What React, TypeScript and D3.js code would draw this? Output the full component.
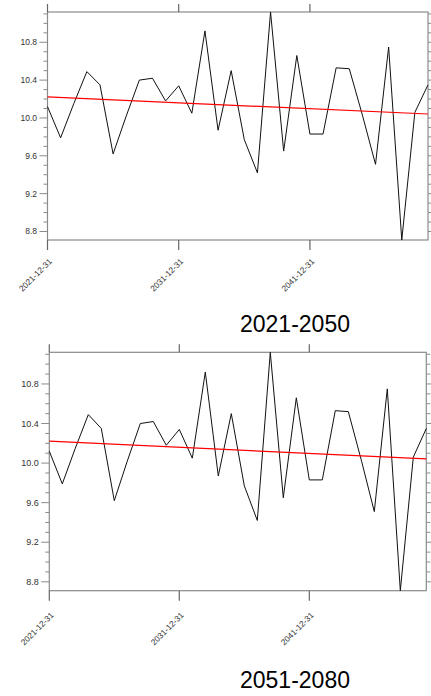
import React from "react";
import * as d3 from "d3";

// ---- data ----
const years: number[] = d3.range(2021, 2051);
const series2050: number[] = [
  10.12, 9.79, 10.15, 10.49, 10.35, 9.62, 10.02, 10.4, 10.42, 10.18,
  10.34, 10.05, 10.92, 9.87, 10.5, 9.77, 9.42, 11.12, 9.65, 10.66,
  9.83, 9.83, 10.53, 10.52, 10.03, 9.51, 10.75, 8.71, 10.06, 10.35,
];
const series2080: number[] = [
  10.12, 9.79, 10.15, 10.49, 10.35, 9.62, 10.02, 10.4, 10.42, 10.18,
  10.34, 10.05, 10.92, 9.87, 10.5, 9.77, 9.42, 11.12, 9.65, 10.66,
  9.83, 9.83, 10.53, 10.52, 10.03, 9.51, 10.75, 8.71, 10.06, 10.35,
];
const xTickLabels: string[] = ["2021-12-31", "2031-12-31", "2041-12-31"];
const yMajorTicks: number[] = [8.8, 9.2, 9.6, 10.0, 10.4, 10.8];
const titles: string[] = ["2021-2050", "2051-2080"];

const FONT = "'Liberation Sans', Arial, sans-serif";

type PanelProps = {
  values: number[];
  title: string;
  left: number;
  right: number;
  top: number;
  bottom: number;
  tickFont: number;
  xLabelDy: number;
  titleY: number;
};

function Panel({ values, title, left, right, top, bottom, tickFont, xLabelDy, titleY }: PanelProps) {
  const dates = years.map((y) => new Date(Date.UTC(y, 11, 31)));
  const x = d3.scaleUtc().domain(d3.extent(dates) as [Date, Date]).range([left, right]);
  const y = d3.scaleLinear().domain(d3.extent(values) as [number, number]).range([bottom, top]);

  const pts: [number, number][] = values.map((v, i) => [x(dates[i]), y(v)]);
  const line = d3.line<[number, number]>();

  // linear regression trend
  const n = values.length;
  const idx = d3.range(n);
  const mx = d3.mean(idx) as number;
  const my = d3.mean(values) as number;
  const sxy = d3.sum(idx, (i) => (i - mx) * (values[i] - my));
  const sxx = d3.sum(idx, (i) => (i - mx) * (i - mx));
  const slope = sxy / sxx;
  const trend = (i: number) => my + slope * (i - mx);
  const trendPts: [number, number][] = [
    [x(dates[0]), y(trend(0))],
    [x(dates[n - 1]), y(trend(n - 1))],
  ];

  const [lo, hi] = y.domain();
  const minor = d3.range(Math.ceil(lo * 10), Math.floor(hi * 10) + 1).map((k) => k / 10);
  const xTicks = xTickLabels.map((s) => {
    const [yy, mm, dd] = s.split("-").map(Number);
    return { label: s, pos: x(new Date(Date.UTC(yy, mm - 1, dd))) };
  });
  const isMajor = (v: number) => yMajorTicks.some((m) => Math.abs(m - v) < 1e-6);
  const frame = "#8a8a8a";

  return (
    <g>
      <rect x={left} y={top} width={right - left} height={bottom - top} fill="none" stroke={frame} strokeWidth={1.2} />
      {minor.map((v) => {
        const len = isMajor(v) ? 8 : 4;
        return (
          <g key={v}>
            <line x1={left - len} x2={left} y1={y(v)} y2={y(v)} stroke={frame} strokeWidth={1} />
            <line x1={right} x2={right + len} y1={y(v)} y2={y(v)} stroke={frame} strokeWidth={1} />
          </g>
        );
      })}
      {yMajorTicks.map((v) => (
        <text
          key={v}
          x={left - 10.5}
          y={y(v)}
          dy="0.35em"
          textAnchor="end"
          fontFamily={FONT}
          fontSize={tickFont}
          fill="#333"
        >
          {v.toFixed(1)}
        </text>
      ))}
      {xTicks.map((t) => (
        <g key={t.label}>
          <line x1={t.pos} x2={t.pos} y1={top - 8} y2={top} stroke="#666" strokeWidth={1.2} />
          <line x1={t.pos} x2={t.pos} y1={bottom} y2={bottom + 10} stroke="#666" strokeWidth={1.2} />
          <text
            transform={`translate(${t.pos + 5},${bottom + xLabelDy}) rotate(-45)`}
            textAnchor="end"
            fontFamily={FONT}
            fontSize={8.3}
            fill="#333"
          >
            {t.label}
          </text>
        </g>
      ))}
      <path d={line(pts) as string} fill="none" stroke="#111" strokeWidth={1} strokeLinejoin="miter" />
      <path d={line(trendPts) as string} fill="none" stroke="#ff0000" strokeWidth={1.2} />
      <text x={295} y={titleY} textAnchor="middle" fontFamily={FONT} fontSize={23} fill="#000">
        {title}
      </text>
    </g>
  );
}

export default function App() {
  return (
    <svg
      width={431}
      height={696}
      style={{ position: "absolute", left: 0, top: 0, background: "#fff" }}
    >
      <rect width={431} height={696} fill="#fff" />
      <Panel
        values={series2050}
        title={titles[0]}
        left={47.5}
        right={428}
        top={12}
        bottom={240}
        tickFont={8.5}
        xLabelDy={22}
        titleY={331.5}
      />
      <Panel
        values={series2080}
        title={titles[1]}
        left={49.3}
        right={426.3}
        top={352.3}
        bottom={590.7}
        tickFont={9}
        xLabelDy={25}
        titleY={688}
      />
    </svg>
  );
}
